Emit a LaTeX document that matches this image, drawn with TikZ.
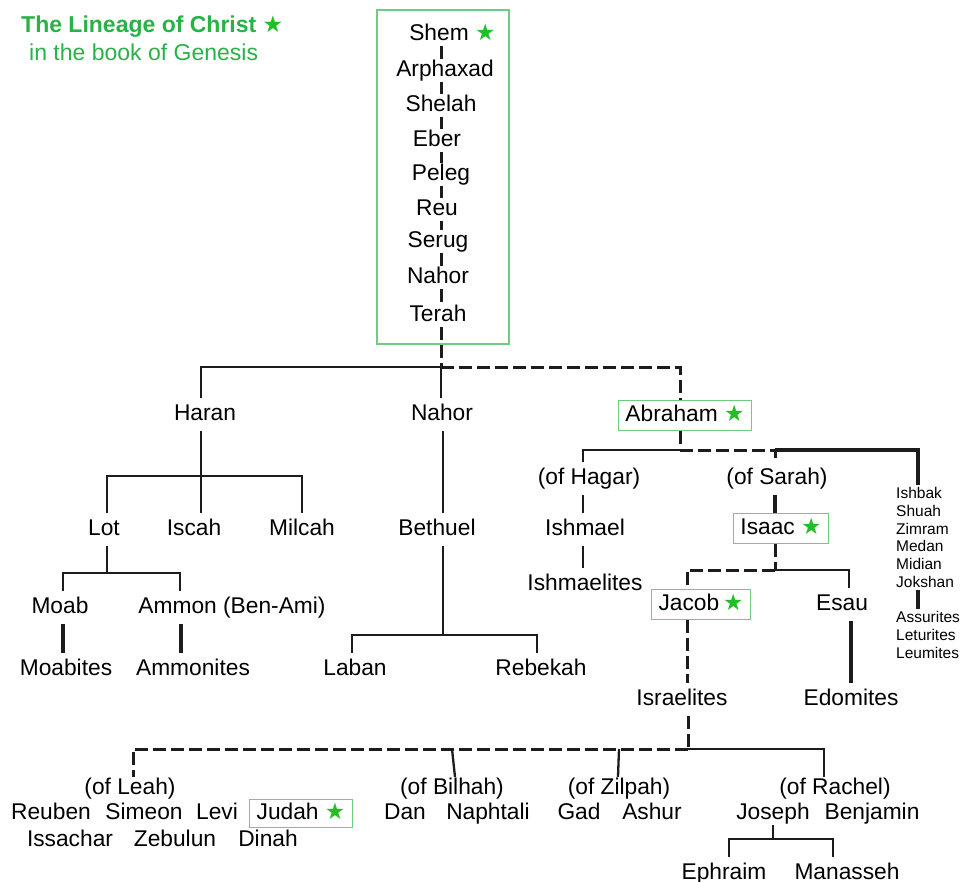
\documentclass[tikz,border=0pt]{standalone}
\usepackage{fontspec}
\setmainfont{Liberation Sans}
\newfontfamily\symfont{DejaVu Sans}
\definecolor{titlegreen}{RGB}{40,178,72}
\definecolor{stargreen}{RGB}{34,190,40}
\definecolor{boxgreen}{RGB}{110,205,130}
\definecolor{ink}{RGB}{28,28,28}
\newcommand\mainsz{\fontsize{22.75}{27}\selectfont}
\newcommand\smallsz{\fontsize{15.5}{17.8}\selectfont}
\newcommand\titlesz{\fontsize{23}{27}\selectfont}
\newcommand\gstar{{\symfont\color{stargreen}★}}

\begin{document}
\begin{tikzpicture}[x=1pt,y=-1pt,
  person/.style={font=\mainsz, text height=16pt, text depth=4.5pt,
                 inner xsep=2pt, inner ysep=6pt, yshift=-2.4pt},
  tight/.style={person, inner ysep=1pt},
  starred/.style={person, draw=boxgreen, line width=1.1pt, inner xsep=7pt, inner ysep=4.5pt},
  sline/.style={draw=ink, line width=2.3pt},
  thline/.style={draw=ink, line width=3.6pt},
  dline/.style={draw=ink, line width=3pt, dash pattern=on 13pt off 5pt},
  small/.style={font=\smallsz, align=left, inner sep=2pt, anchor=north west},
  heading/.style={anchor=west, inner sep=0pt, text=titlegreen, font=\titlesz},
]
\useasboundingbox (0,0) rectangle (961,881);

% title
\node[heading, font=\titlesz\bfseries] (title) at (21,27) {The Lineage of Christ \gstar};
\node[heading] (subtitle) at (29,52) {in the book of Genesis};

% Shem to Terah
\node[draw=boxgreen, line width=1.1pt, minimum width=132pt, minimum height=334pt, inner sep=0pt] (topbox) at (443,177) {};
\node[tight] (shem)   at (439,32)  {Shem\rlap{\ \gstar}};
\node[tight] (arph)   at (445,68)  {Arphaxad};
\node[tight] (shelah) at (441,103) {Shelah};
\node[tight] (eber)   at (437,138) {Eber};
\node[tight] (peleg)  at (441,172) {Peleg};
\node[tight] (reu)    at (437,207) {Reu};
\node[tight] (serug)  at (438,239) {Serug};
\node[tight] (nahorA) at (438,275) {Nahor};
\node[tight] (terah)  at (438,313) {Terah};
\coordinate (jT) at (441,367);
\foreach \a/\b in {shem/arph,arph/shelah,shelah/eber,eber/peleg,peleg/reu,reu/serug,serug/nahorA,nahorA/terah}
  \draw[dline] (\a.south -| jT) -- (\b.north -| jT);
\draw[dline] (terah.south -| jT) -- (jT);

% sons of Terah
\node[person] (haran) at (205,412) {Haran};
\node[person] (nahorB) at (442,412) {Nahor};
\node[starred] (abraham) at (685,413) {Abraham \gstar};
\draw[sline] (jT) -| (haran.north -| 201,0);
\draw[sline] (jT) -- (nahorB.north -| jT);
\draw[dline] (jT) -| (abraham.north -| 680,0);

% Haran's line
\node[person] (lot)    at (104,527) {Lot};
\node[person] (iscah)  at (194,527) {Iscah};
\node[person] (milcah) at (302,527) {Milcah};
\coordinate (jH) at (201,476);
\draw[sline] (haran.south -| jH) -- (iscah.north -| jH);
\draw[sline] (lot.north -| 107,0) |- (jH) -| (milcah.north -| 302,0);

\node[person] (moab)  at (60,605)  {Moab};
\node[person] (ammon) at (232,605) {Ammon (Ben-Ami)};
\coordinate (jL) at (107,573);
\draw[sline] (lot.south -| jL) -- (jL);
\draw[sline] (moab.north -| 63,0) |- (jL) -| (ammon.north -| 180,0);
\node[person] (moabites)  at (66,667)  {Moabites};
\node[person] (ammonites) at (193,667) {Ammonites};
\draw[thline] (moab.south -| 63,0) -- (moabites.north -| 63,0);
\draw[thline] (ammon.south -| 181,0) -- (ammonites.north -| 181,0);

% Nahor's line
\node[person] (bethuel) at (437,527) {Bethuel};
\draw[sline] (nahorB.south -| 443,0) -- (bethuel.north -| 443,0);
\coordinate (jB) at (443,635);
\node[person] (laban)   at (355,667) {Laban};
\node[person] (rebekah) at (541,667) {Rebekah};
\draw[sline] (bethuel.south -| jB) -- (jB);
\draw[sline] (laban.north -| 352,0) |- (jB) -| (rebekah.north -| 537,0);

% Abraham's line
\coordinate (jA) at (680,450);
\coordinate (jS) at (775,450);
\node[person] (hagar) at (589,476) {(of Hagar)};
\node[person] (sarah) at (777,476) {(of Sarah)};
\draw[dline] (abraham.south -| jA) -- (jA);
\draw[sline] (jA) -| (hagar.north -| 583,0);
\draw[dline] (jA) -- (jS) -- (sarah.north -| jS);
\node[small] (ketur) at (894,485) {Ishbak\\Shuah\\Zimram\\Medan\\Midian\\Jokshan};
\node[small] (assur) at (894,609) {Assurites\\Leturites\\Leumites};
\draw[thline] (jS) -| (ketur.north -| 918,0);
\draw[thline] (ketur.south -| 918,0) -- (assur.north -| 918,0);

\node[person] (ishmael)     at (585,527) {Ishmael};
\node[person] (ishmaelites) at (585,582) {Ishmaelites};
\draw[sline] (hagar.south -| 583,0) -- (ishmael.north -| 583,0);
\draw[sline] (ishmael.south -| 583,0) -- (ishmaelites.north -| 583,0);

\node[starred] (isaac) at (781,526) {Isaac \gstar};
\draw[thline] (sarah.south -| jS) -- (isaac.north -| jS);
\coordinate (jI) at (775,570);
\node[starred] (jacob) at (701,602) {Jacob\,\gstar};
\node[person] (esau) at (842,602) {Esau};
\draw[dline] (isaac.south -| jI) -- (jI);
\draw[dline] (jI) -| (jacob.north -| 687,0);
\draw[sline] (jI) -| (esau.north -| 849,0);

\node[person] (israelites) at (682,697) {Israelites};
\node[person] (edomites)   at (851,697) {Edomites};
\draw[dline] (jacob.south -| 687,0) -- (israelites.north -| 687,0);
\draw[thline] (esau.south -| 851,0) -- (edomites.north -| 851,0);

% the twelve tribes
\coordinate (jJ) at (688,749);
\node[tight] (leah)   at (130,786) {(of Leah)};
\node[tight] (bilhah) at (452,786) {(of Bilhah)};
\node[tight] (zilpah) at (619,786) {(of Zilpah)};
\node[tight] (rachel) at (835,786) {(of Rachel)};
\draw[dline] (israelites.south -| jJ) -- (jJ);
\draw[dline] (jJ) -| (leah.north -| 133,0);
\draw[sline] (bilhah.north -| 455,0) -- (bilhah.north |- jJ);
\draw[sline] (zilpah.north -| 618,0) -- (zilpah.north |- jJ);
\draw[sline] (jJ) -| (rachel.north -| 824,0);

\node[tight] (reuben)   at (51,811)  {Reuben};
\node[tight] (simeon)   at (144,811) {Simeon};
\node[tight] (levi)     at (217,811) {Levi};
\node[starred, inner ysep=4pt] (judah) at (301,811) {Judah \gstar};
\node[tight] (issachar) at (70,838)  {Issachar};
\node[tight] (zebulun)  at (175,838) {Zebulun};
\node[tight] (dinah)    at (268,838) {Dinah};
\node[tight] (dan)      at (405,811) {Dan};
\node[tight] (naphtali) at (488,811) {Naphtali};
\node[tight] (gad)      at (579,811) {Gad};
\node[tight] (ashur)    at (652,811) {Ashur};
\node[tight] (joseph)   at (773,811) {Joseph};
\node[tight] (benjamin) at (872,811) {Benjamin};

\coordinate (jJo) at (773,839);
\node[person] (ephraim)  at (724,871) {Ephraim};
\node[person] (manasseh) at (847,871) {Manasseh};
\draw[sline] (joseph.south -| jJo) -- (jJo);
\draw[sline] (ephraim.north -| 729,0) |- (jJo) -| (manasseh.north -| 833,0);
\end{tikzpicture}
\end{document}
